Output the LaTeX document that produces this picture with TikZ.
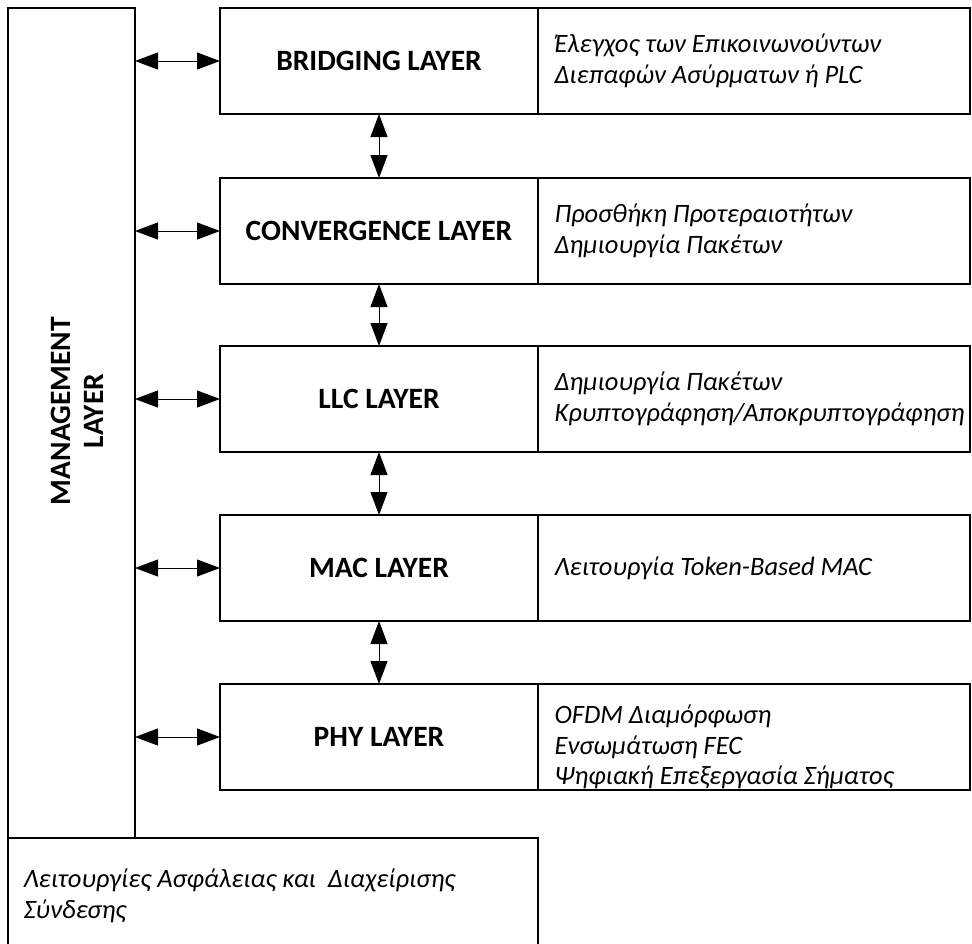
\documentclass[tikz,border=0pt]{standalone}
\usepackage{fontspec}
\setmainfont{Carlito}
\usetikzlibrary{arrows.meta}

\tikzset{
  box/.style={draw=black, line width=2pt, inner sep=0pt, outer sep=0pt},
  layerlabel/.style={font=\fontsize{29.5}{33}\selectfont\bfseries, align=center},
  desc/.style={font=\fontsize{26.5}{30.5}\selectfont\itshape, align=left, anchor=west},
  link/.style={line width=1pt, {Triangle[length=23pt,width=17pt]}-{Triangle[length=23pt,width=17pt]}}
}

\begin{document}
\begin{tikzpicture}[x=1pt, y=-1pt]
\useasboundingbox (0,0) rectangle (972,943);

% management column and bottom security box
\node[box, minimum width=127pt, minimum height=830pt, anchor=north west] (mgmt) at (8,8) {};
\node[layerlabel, rotate=90] (mgmtlabel) at ([shift={(6,-12)}]mgmt.center) {MANAGEMENT\\LAYER};
\node[box, minimum width=530pt, minimum height=110pt, anchor=north west] (sec) at (8,838) {};
\node[desc] (sectext) at (20,896) {Λειτουργίες Ασφάλειας και \ Διαχείρισης\\Σύνδεσης};

% protocol layers with their descriptions
\foreach \name/\top/\label in {
  bridge/8/BRIDGING LAYER,
  conv/178/CONVERGENCE LAYER,
  llc/346/LLC LAYER,
  mac/515/MAC LAYER,
  phy/684/PHY LAYER} {
  \node[box, minimum width=318pt, minimum height=106pt, anchor=north west] (\name) at (220,\top) {};
  \node[layerlabel] (\name label) at (\name.center) {\label};
  \node[box, minimum width=432pt, minimum height=106pt, anchor=north west] (\name desc) at (538,\top) {};
  \draw[link] (mgmt.east |- \name.west) -- (\name.west);
}

\node[desc] (bridgetext) at ([xshift=13pt]bridgedesc.west) {Έλεγχος των Επικοινωνούντων\\Διεπαφών Ασύρματων ή PLC};
\node[desc] (convtext) at ([xshift=13pt]convdesc.west) {Προσθήκη Προτεραιοτήτων\\Δημιουργία Πακέτων};
\node[desc] (llctext) at ([xshift=13pt]llcdesc.west) {Δημιουργία Πακέτων\\Κρυπτογράφηση/Αποκρυπτογράφηση};
\node[desc] (mactext) at ([xshift=13pt]macdesc.west) {Λειτουργία Token-Based MAC};
\node[desc] (phytext) at ([shift={(13,10)}]phydesc.west) {OFDM Διαμόρφωση\\Ενσωμάτωση FEC\\Ψηφιακή Επεξεργασία Σήματος};

% links between neighbouring layers
\draw[link] (bridge.south) -- (conv.north);
\draw[link] (conv.south) -- (llc.north);
\draw[link] (llc.south) -- (mac.north);
\draw[link] (mac.south) -- (phy.north);
\end{tikzpicture}
\end{document}
